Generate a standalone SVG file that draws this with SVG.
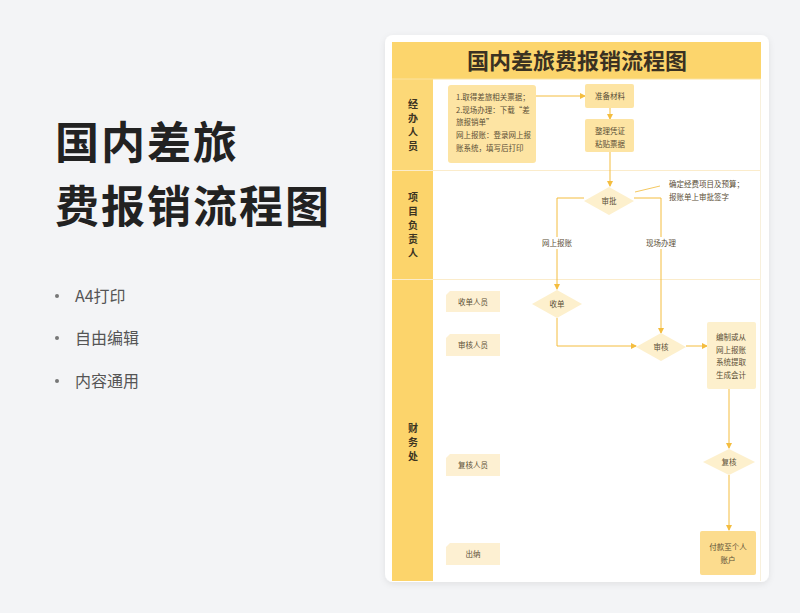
<svg xmlns="http://www.w3.org/2000/svg" width="800" height="613" viewBox="0 0 800 613">
<defs>
<marker id="ah" markerWidth="6" markerHeight="6" refX="5" refY="3" orient="auto" markerUnits="userSpaceOnUse">
<path d="M0,0 L6,3 L0,6 Z" fill="#f4bd3f"/>
</marker>
<filter id="sh" x="-10%" y="-10%" width="120%" height="120%">
<feDropShadow dx="0" dy="2" stdDeviation="3" flood-color="#000" flood-opacity="0.08"/>
</filter>
<style>
.cn{font-family:"Noto Sans CJK SC","Noto Sans",sans-serif}
.nt{font-family:"Noto Sans CJK SC",sans-serif;font-size:7.5px;fill:#5a4e36}
.lane{font-family:"Noto Sans CJK SC",sans-serif;font-size:10px;font-weight:bold;fill:#3d3422;text-anchor:middle}
.c{text-anchor:middle}
.ln{fill:none;stroke:#f4bd3f;stroke-width:1}
.box{fill:#fde4a3}
.dia{fill:#fdf0cd}
.role{fill:#fdf0d2}
.bul{font-family:"Noto Sans CJK SC",sans-serif;font-size:16px;fill:#555}
.big{font-size:44px;font-weight:bold;fill:#222;letter-spacing:2px}
</style>
</defs>
<rect width="800" height="613" fill="#f3f4f6"/>
<g id="left-title">
<text class="cn big" x="55" y="159">国内差旅</text>
<text class="cn big" x="55" y="223">费报销流程图</text>
<circle cx="57" cy="296" r="2" fill="#777"/>
<text class="bul" x="75" y="302">A4打印</text>
<circle cx="57" cy="338" r="2" fill="#777"/>
<text class="bul" x="75" y="344">自由编辑</text>
<circle cx="57" cy="381" r="2" fill="#777"/>
<text class="bul" x="75" y="387">内容通用</text>
</g>
<g id="card">
<rect x="385" y="35" width="384" height="547" rx="8" fill="#fff" filter="url(#sh)"/>
<rect x="392" y="42" width="369" height="37" fill="#fcd56c"/>
<text class="cn c" x="577" y="69" font-size="22" font-weight="bold" fill="#3a3122">国内差旅费报销流程图</text>
<rect x="392" y="79" width="41" height="502" fill="#fcd46b"/>
<rect x="392" y="79" width="41" height="91" fill="#fcd877"/>
<line x1="392" y1="79" x2="761" y2="79" stroke="#fbe2a0" stroke-width="1"/>
<line x1="392" y1="170.5" x2="761" y2="170.5" stroke="#fbeccb" stroke-width="1"/>
<line x1="392" y1="279.5" x2="761" y2="279.5" stroke="#fbeccb" stroke-width="1"/>
<line x1="760.5" y1="79" x2="760.5" y2="581" stroke="#f8f0dc" stroke-width="1"/>
</g>
<g id="lane1"><text class="lane"><tspan x="413" y="108">经</tspan><tspan x="413" y="122">办</tspan><tspan x="413" y="136">人</tspan><tspan x="413" y="150">员</tspan></text></g>
<g id="lane2"><text class="lane"><tspan x="413" y="201">项</tspan><tspan x="413" y="215">目</tspan><tspan x="413" y="229">负</tspan><tspan x="413" y="243">责</tspan><tspan x="413" y="257">人</tspan></text></g>
<g id="lane3"><text class="lane"><tspan x="413" y="432">财</tspan><tspan x="413" y="446">务</tspan><tspan x="413" y="460">处</tspan></text></g>
<g id="connectors">
<line class="ln" x1="536" y1="96" x2="585" y2="96" marker-end="url(#ah)"/>
<line class="ln" x1="610" y1="108" x2="610" y2="119" marker-end="url(#ah)"/>
<line class="ln" x1="610" y1="152" x2="610" y2="186" marker-end="url(#ah)"/>
<line x1="635" y1="192" x2="660" y2="186" stroke="#f4c860" stroke-width="1"/>
<polyline class="ln" points="584,198 557,198 557,289" marker-end="url(#ah)"/>
<polyline class="ln" points="634,198 661,198 661,333" marker-end="url(#ah)"/>
<polyline class="ln" points="557,318 557,346 636,346" marker-end="url(#ah)"/>
<line class="ln" x1="686" y1="346" x2="707" y2="346" marker-end="url(#ah)"/>
<line class="ln" x1="729" y1="389" x2="729" y2="448" marker-end="url(#ah)"/>
<line class="ln" x1="729" y1="475" x2="729" y2="530" marker-end="url(#ah)"/>
<rect x="540" y="237" width="34" height="12" fill="#fff"/>
<text class="nt c" x="557" y="246" fill="#6a6050">网上报账</text>
<rect x="644" y="237" width="34" height="12" fill="#fff"/>
<text class="nt c" x="661" y="246" fill="#6a6050">现场办理</text>
</g>
<g id="n-start">
<rect class="box" x="448" y="85" width="88" height="78" rx="3"/>
<text class="nt"><tspan x="456" y="100">1.取得差旅相关票据；</tspan><tspan x="456" y="113">2.现场办理：下载“差</tspan><tspan x="456" y="125">旅报销单”</tspan><tspan x="456" y="138">网上报账：登录网上报</tspan><tspan x="456" y="151">账系统，填写后打印</tspan></text>
</g>
<g id="n-prepare">
<rect class="box" x="585" y="84" width="49" height="24" rx="2"/>
<text class="nt c" x="610" y="99">准备材料</text>
</g>
<g id="n-organize">
<rect class="box" x="585" y="119" width="49" height="33" rx="2"/>
<text class="nt c"><tspan x="610" y="134">整理凭证</tspan><tspan x="610" y="147">粘贴票据</tspan></text>
</g>
<g id="n-approve">
<polygon class="dia" points="609,187 634,201 609,215 584,201"/>
<text class="nt c" x="609" y="204">审批</text>
</g>
<g id="n-note">
<text class="nt"><tspan x="669" y="187">确定经费项目及预算；</tspan><tspan x="669" y="200">报账单上审批签字</tspan></text>
</g>
<g id="n-receive">
<polygon class="dia" points="557,290 582,304 557,318 532,304"/>
<text class="nt c" x="557" y="307">收单</text>
</g>
<g id="n-audit">
<polygon class="dia" points="661,333 686,347 661,361 636,347"/>
<text class="nt c" x="661" y="350">审核</text>
</g>
<g id="n-compile">
<rect class="dia" x="707" y="322" width="49" height="67" rx="2"/>
<text class="nt c"><tspan x="731" y="340">编制或从</tspan><tspan x="731" y="353">网上报账</tspan><tspan x="731" y="365">系统提取</tspan><tspan x="731" y="378">生成会计</tspan></text>
</g>
<g id="n-recheck">
<polygon class="dia" points="729,449 755,462 729,475 703,462"/>
<text class="nt c" x="729" y="465">复核</text>
</g>
<g id="n-pay">
<rect x="700" y="531" width="56" height="44" rx="2" fill="#fcdc8e"/>
<text class="nt c"><tspan x="728" y="550">付款至个人</tspan><tspan x="728" y="563">账户</tspan></text>
</g>
<g id="r-receiver">
<path class="role" d="M450,291 H500 V312 H446 V295 Z"/>
<text class="nt c" x="473" y="305">收单人员</text>
</g>
<g id="r-auditor">
<path class="role" d="M450,334 H500 V356 H446 V338 Z"/>
<text class="nt c" x="473" y="348">审核人员</text>
</g>
<g id="r-rechecker">
<path class="role" d="M450,454 H500 V476 H446 V458 Z"/>
<text class="nt c" x="473" y="468">复核人员</text>
</g>
<g id="r-cashier">
<path class="role" d="M450,543 H500 V565 H446 V547 Z"/>
<text class="nt c" x="473" y="557">出纳</text>
</g>
</svg>
